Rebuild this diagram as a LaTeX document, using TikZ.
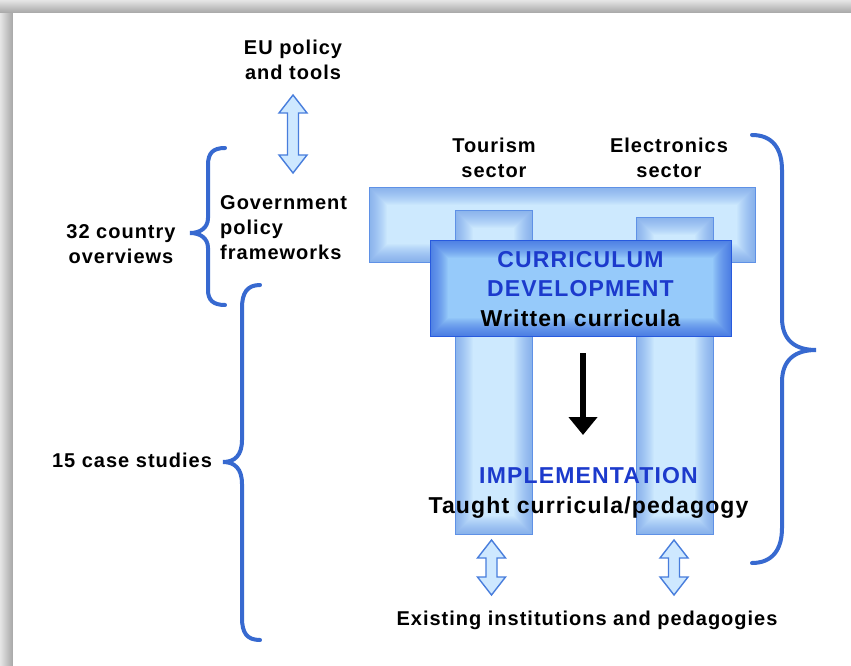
\documentclass[tikz,border=0pt]{standalone}
\usepackage{fontspec}
\setmainfont{Liberation Sans}[LetterSpace=5]
\usetikzlibrary{arrows.meta,calc}
\definecolor{barfill}{RGB}{205,233,254}
\definecolor{baredge}{RGB}{95,145,230}
\definecolor{cdfill}{RGB}{150,202,250}
\definecolor{cdedge}{RGB}{40,90,222}
\definecolor{bluetext}{RGB}{28,58,204}
\definecolor{bracecol}{RGB}{55,105,208}
\definecolor{arrfill}{RGB}{206,232,255}
\definecolor{arredge}{RGB}{72,125,220}
\tikzset{
  glowbox/.style n args={3}{draw=#2, line width=0.8pt, fill=#1, inner sep=0pt,
    path picture={
      \foreach \w in {1,...,18}{
        \draw[#2, line width=2*\w pt, opacity=#3]
          (path picture bounding box.south west) rectangle (path picture bounding box.north east);}
    }},
  lbl/.style={font=\fontsize{20}{25}\selectfont\bfseries, align=center, inner sep=0pt},
  bigtxt/.style={font=\fontsize{23}{29.5}\selectfont\bfseries, align=center, inner sep=0pt},
  brace/.style={draw=bracecol, line width=4pt, line cap=round},
  dblstyle/.style={draw=arredge, fill=arrfill, line width=1.4pt, line join=miter},
}
\newcommand\dblarr[2]{%
  \filldraw[dblstyle] (#1) -- ($(#1)+(14,18)$) -- ($(#1)+(5.5,18)$) -- ($(#2)+(5.5,-18)$)
   -- ($(#2)+(14,-18)$) -- (#2) -- ($(#2)+(-14,-18)$) -- ($(#2)+(-5.5,-18)$)
   -- ($(#1)+(-5.5,18)$) -- ($(#1)+(-14,18)$) -- cycle;}
\begin{document}
\begin{tikzpicture}[x=1pt,y=-1pt]
\useasboundingbox (0,0) rectangle (851,666);
% page shadow
\shade[left color=gray!20, right color=gray!70] (0,0) rectangle (13,666);
\shade[top color=gray!20, bottom color=gray!70] (0,0) rectangle (851,13);
\fill[white] (13,13) rectangle (851,666);

% T structure
\node[glowbox={barfill}{baredge}{0.045}, minimum width=386pt, minimum height=75pt] (bar) at (562,224.5) {};
\node[glowbox={barfill}{baredge}{0.045}, minimum width=77pt, minimum height=324pt] (colL) at (493.5,372) {};
\node[glowbox={barfill}{baredge}{0.045}, minimum width=77pt, minimum height=317pt] (colR) at (674.5,375.5) {};
\node[glowbox={cdfill}{cdedge}{0.05}, minimum width=301pt, minimum height=96pt] (cd) at (580.5,288) {};

% texts
\node[bigtxt] (cdt) at (580.5,289) {\textcolor{bluetext}{CURRICULUM}\\\textcolor{bluetext}{DEVELOPMENT}\\Written curricula};
\node[bigtxt] (impl) at (588.5,493) {\textcolor{bluetext}{IMPLEMENTATION}\\Taught curricula/pedagogy};
\node[lbl] (eu) at (293,59.5) {EU policy\\and tools};
\node[lbl, align=left, anchor=west] (gov) at (220,228) {Government\\policy\\frameworks};
\node[lbl] (tour) at (494,157.5) {Tourism\\sector};
\node[lbl] (elec) at (669,157.5) {Electronics\\sector};
\node[lbl] (c32) at (121,244) {32 country\\overviews};
\node[lbl] (c15) at (132,460) {15 case studies};
\node[lbl] (exist) at (587,620) {Existing institutions and pedagogies};

% black arrow
\coordinate (ba1) at (583,353);
\coordinate (ba2) at (583,435);
\draw[line width=5.5pt, -{Triangle[width=28pt,length=18pt]}] (ba1) -- (ba2);

% double arrows
\coordinate (eua) at (293,95);
\coordinate (eub) at (293,173);
\dblarr{eua}{eub}
\coordinate (la) at (491.5,540);
\coordinate (lb) at (491.5,595);
\dblarr{la}{lb}
\coordinate (ra) at (674,540);
\coordinate (rb) at (674,595);
\dblarr{ra}{rb}

% braces
\draw[brace] (225,148) .. controls (213,148) and (208,153) .. (208,165) -- (208,218)
  .. controls (208,228) and (200,233) .. (190,233) .. controls (200,233) and (208,238) .. (208,248)
  -- (208,290) .. controls (208,300) and (213,305) .. (225,305);
\draw[brace] (260,285) .. controls (247,285) and (242,293) .. (242,308) -- (242,440)
  .. controls (242,455) and (235,462) .. (223,462) .. controls (235,462) and (242,469) .. (242,484)
  -- (242,618) .. controls (242,633) and (247,640) .. (260,640);
\draw[brace] (752,135) .. controls (772,135) and (782,148) .. (782,170) -- (782,318)
  .. controls (782,340) and (795,350) .. (816,350) .. controls (795,350) and (782,360) .. (782,382)
  -- (782,528) .. controls (782,550) and (772,563) .. (752,563);
\end{tikzpicture}
\end{document}
